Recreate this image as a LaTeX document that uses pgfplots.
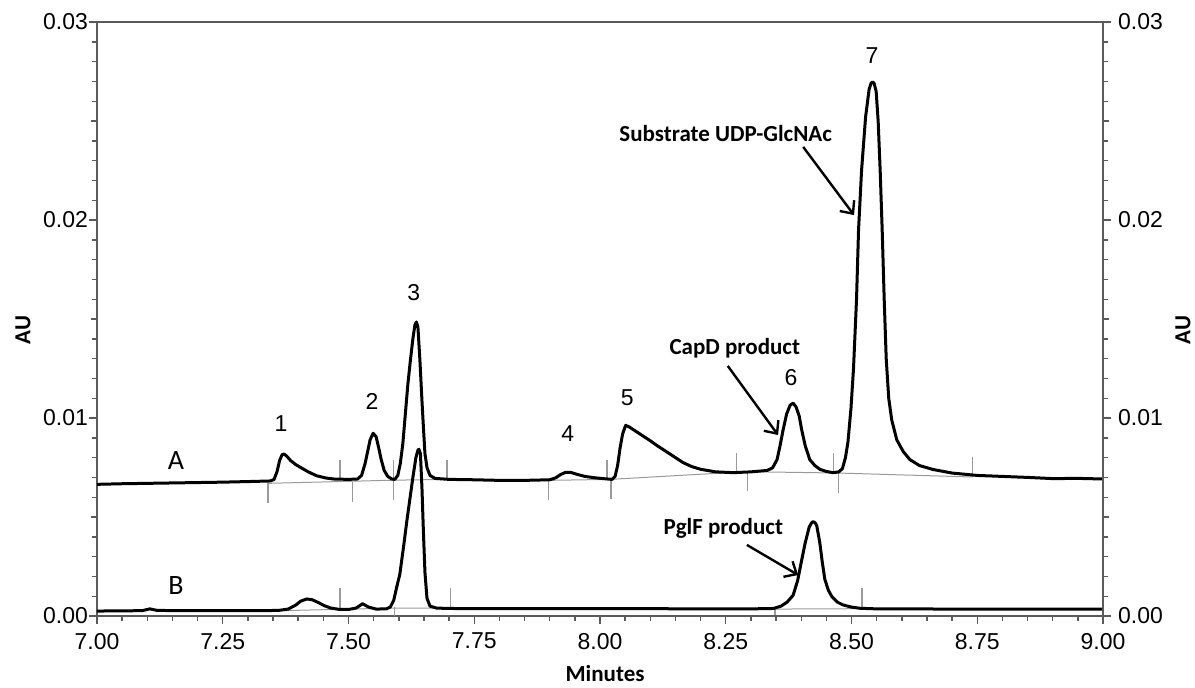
\documentclass[border=0pt]{standalone}
\usepackage{pgfplots}
\pgfplotsset{compat=1.18}
\usepackage{fontspec}
\setmainfont{Liberation Sans}
\newfontfamily\calibri{Carlito}
\usetikzlibrary{arrows.meta}
\definecolor{axisgray}{HTML}{5A5A5A}
\definecolor{basegray}{HTML}{9A9A9A}
\begin{document}
\begin{tikzpicture}
\pgfplotsset{
  common/.style={
    scale only axis, width=503pt, height=297pt,
    xmin=7, xmax=9, ymin=0, ymax=0.03,
    ytick={0,0.01,0.02,0.03}, minor y tick num=9,
    extra y ticks={0.005,0.015,0.025}, extra y tick labels={},
    extra y tick style={major tick length=3.2pt},
    tick align=outside,
    axis line style={draw=axisgray, line width=0.9pt},
    major tick length=4pt, minor tick length=2.3pt,
    every tick/.style={draw=axisgray, line width=0.7pt},
    tick label style={font=\fontsize{11.5}{13}\selectfont},
    scaled y ticks=false, scaled x ticks=false,
    tick label style={/pgf/number format/fixed, /pgf/number format/fixed zerofill, /pgf/number format/precision=2, /pgf/number format/assume math mode=true},
    clip=false,
  }
}
\begin{axis}[common,
  xtick={7,7.25,7.5,7.75,8,8.25,8.5,8.75,9}, minor x tick num=4,
  xtick pos=bottom, ytick pos=left,
  yticklabel style={xshift=3pt},
  xticklabel style={yshift=-1pt},
  xlabel={\calibri\bfseries Minutes},
  ylabel={\calibri\bfseries AU},
  every axis x label/.style={at={(axis description cs:0.505,-0.096)}, anchor=center, font=\fontsize{11.5}{13}\selectfont},
  every axis y label/.style={at={(axis description cs:-0.0736,0.4815)}, anchor=center, rotate=90, font=\fontsize{11.5}{13}\selectfont},
]
% integration baselines (gray)
\addplot[basegray, line width=0.5pt] coordinates {
(7.34,0.00670) (7.59,0.00686) (7.70,0.00690) (7.895,0.00685) (8.02,0.00690) (8.29,0.00729) (8.475,0.00722) (8.74,0.00702)};
\addplot[basegray, line width=0.5pt] coordinates {
(7.35,0.00026) (7.59,0.00040) (7.70,0.00040)};
\addplot[basegray, line width=0.5pt] coordinates {
(8.348,0.00035) (8.521,0.00037)};
% integration tick marks
\addplot[basegray, line width=0.6pt, unbounded coords=jump] coordinates {
(7.34,0.00570) (7.34,0.00670) (7.34,nan)
(7.483,0.00690) (7.483,0.00790) (7.483,nan)
(7.508,0.00578) (7.508,0.00678) (7.508,nan)
(7.59,0.00586) (7.59,0.00788) (7.59,nan)
(7.696,0.00690) (7.696,0.00790) (7.696,nan)
(7.897,0.00585) (7.897,0.00685) (7.897,nan)
(8.014,0.00690) (8.014,0.00790) (8.014,nan)
(8.022,0.00590) (8.022,0.00690) (8.022,nan)
(8.272,0.00725) (8.272,0.00825) (8.272,nan)
(8.294,0.00629) (8.294,0.00729) (8.294,nan)
(8.464,0.00722) (8.464,0.00822) (8.464,nan)
(8.474,0.00622) (8.474,0.00722) (8.474,nan)
(8.741,0.00702) (8.741,0.00802) (8.741,nan)
(7.483,0.00035) (7.483,0.00140) (7.483,nan)
(7.591,0.00000) (7.591,0.00045) (7.591,nan)
(7.702,0.00040) (7.702,0.00140) (7.702,nan)
(8.348,0.00005) (8.348,0.00038) (8.348,nan)
(8.521,0.00038) (8.521,0.00140)
};
% trace A
\addplot[black, line width=1.5pt, line join=round] coordinates {
(7.00,0.00665) (7.05,0.00668) (7.10,0.00670) (7.15,0.00672) (7.20,0.00674) (7.25,0.00676) (7.30,0.00679)
(7.345,0.00682) (7.352,0.00690) (7.358,0.00730) (7.363,0.00785) (7.368,0.00815) (7.372,0.00818)
(7.377,0.00808) (7.385,0.00785) (7.395,0.00765) (7.405,0.00750) (7.42,0.00728) (7.437,0.00708)
(7.455,0.00697) (7.47,0.00692) (7.50,0.00690) (7.518,0.00692) (7.526,0.00710) (7.533,0.00770)
(7.538,0.00830) (7.543,0.00890) (7.549,0.00923) (7.555,0.00905) (7.560,0.00850) (7.565,0.00790)
(7.571,0.00735) (7.578,0.00705) (7.586,0.00692) (7.592,0.00690) (7.598,0.00710) (7.603,0.00770)
(7.608,0.00870) (7.613,0.01020) (7.618,0.01170) (7.623,0.01290) (7.628,0.01400) (7.632,0.01470)
(7.635,0.01485) (7.638,0.01460) (7.642,0.01290) (7.646,0.01090) (7.649,0.00950) (7.652,0.00820)
(7.656,0.00750) (7.662,0.00710) (7.672,0.00695) (7.70,0.00690) (7.75,0.00688) (7.80,0.00685)
(7.85,0.00685) (7.90,0.00688) (7.912,0.00698) (7.922,0.00715) (7.932,0.00726) (7.942,0.00725)
(7.955,0.00715) (7.970,0.00705) (7.990,0.00698) (8.010,0.00693) (8.024,0.00690) (8.030,0.00705)
(8.035,0.00760) (8.040,0.00850) (8.045,0.00920) (8.051,0.00963) (8.058,0.00955) (8.070,0.00935)
(8.085,0.00910) (8.100,0.00885) (8.115,0.00858) (8.132,0.00830) (8.150,0.00800) (8.165,0.00775)
(8.182,0.00755) (8.200,0.00741) (8.230,0.00728) (8.265,0.00724) (8.300,0.00728) (8.332,0.00735)
(8.343,0.00748) (8.352,0.00790) (8.358,0.00860) (8.364,0.00940) (8.371,0.01020) (8.378,0.01065)
(8.384,0.01075) (8.390,0.01055) (8.396,0.01010) (8.401,0.00940) (8.408,0.00860) (8.417,0.00790)
(8.427,0.00760) (8.437,0.00741) (8.450,0.00730) (8.463,0.00724) (8.475,0.00728) (8.482,0.00745)
(8.488,0.00800) (8.493,0.00880) (8.499,0.01050) (8.504,0.01250) (8.510,0.01600) (8.514,0.01950)
(8.520,0.02250) (8.528,0.02520) (8.535,0.02660) (8.539,0.02692) (8.542,0.02697) (8.545,0.02690)
(8.549,0.02650) (8.553,0.02500) (8.557,0.02250) (8.561,0.01950) (8.565,0.01600) (8.569,0.01300)
(8.574,0.01100) (8.580,0.00990) (8.590,0.00890) (8.603,0.00830) (8.616,0.00790) (8.635,0.00760)
(8.662,0.00740) (8.70,0.00722) (8.75,0.00710) (8.80,0.00705) (8.85,0.00700) (8.90,0.00694)
(8.95,0.00695) (9.00,0.00692)
};
% trace B
\addplot[black, line width=1.5pt, line join=round] coordinates {
(7.00,0.00025) (7.05,0.00026) (7.09,0.00027) (7.105,0.00036) (7.12,0.00028) (7.20,0.00027)
(7.30,0.00027) (7.36,0.00028) (7.38,0.00035) (7.395,0.00055) (7.405,0.00075) (7.417,0.00086)
(7.428,0.00082) (7.440,0.00068) (7.452,0.00052) (7.465,0.00040) (7.48,0.00034) (7.50,0.00033)
(7.515,0.00040) (7.528,0.00062) (7.540,0.00045) (7.555,0.00035) (7.575,0.00036) (7.583,0.00045)
(7.590,0.00080) (7.596,0.00148) (7.602,0.00210) (7.610,0.00360) (7.616,0.00480) (7.622,0.00590)
(7.628,0.00700) (7.634,0.00800) (7.638,0.00838) (7.640,0.00842) (7.643,0.00820) (7.646,0.00650)
(7.649,0.00420) (7.652,0.00220) (7.656,0.00090) (7.662,0.00050) (7.675,0.00040) (7.70,0.00038)
(7.80,0.00037) (7.90,0.00037) (8.00,0.00037) (8.10,0.00037) (8.20,0.00036) (8.30,0.00036)
(8.345,0.00038) (8.360,0.00050) (8.372,0.00070) (8.384,0.00105) (8.393,0.00180) (8.400,0.00270)
(8.408,0.00370) (8.416,0.00450) (8.421,0.00472) (8.424,0.00476) (8.428,0.00470) (8.431,0.00455)
(8.437,0.00370) (8.442,0.00270) (8.447,0.00185) (8.454,0.00130) (8.461,0.00098) (8.472,0.00070)
(8.483,0.00056) (8.50,0.00045) (8.517,0.00039) (8.55,0.00036) (8.60,0.00036) (8.70,0.00035)
(8.80,0.00035) (8.90,0.00035) (9.00,0.00035)
};
% peak numbers
\begin{scope}[every node/.style={font=\fontsize{11.5}{13}\selectfont, anchor=center}]
\node at (axis cs:7.366,0.00972) {1};
\node at (axis cs:7.547,0.01081) {2};
\node at (axis cs:7.630,0.01631) {3};
\node at (axis cs:7.936,0.00919) {4};
\node at (axis cs:8.054,0.01101) {5};
\node at (axis cs:8.380,0.01202) {6};
\node at (axis cs:8.541,0.02828) {7};
\end{scope}
\node[font=\calibri\fontsize{14}{16}\selectfont] at (axis cs:7.157,0.00783) {A};
\node[font=\calibri\fontsize{14}{16}\selectfont] at (axis cs:7.157,0.00152) {B};
% annotations
\node[font=\calibri\bfseries\fontsize{11.5}{13}\selectfont] at (axis cs:8.268,0.01354) {CapD product};
\node[font=\calibri\bfseries\fontsize{11.5}{13}\selectfont] at (axis cs:8.250,0.02439) {Substrate UDP-GlcNAc};
\node[font=\calibri\bfseries\fontsize{11.5}{13}\selectfont] at (axis cs:8.245,0.00444) {PglF product};
\draw[line width=1.2pt, -{Straight Barb[length=5pt,width=9pt,line width=1.2pt]}] (axis cs:8.254,0.01263) -- (axis cs:8.354,0.00914);
\draw[line width=1.2pt, -{Straight Barb[length=5pt,width=9pt,line width=1.2pt]}] (axis cs:8.404,0.02369) -- (axis cs:8.505,0.02025);
\draw[line width=1.2pt, -{Straight Barb[length=5pt,width=9pt,line width=1.2pt]}] (axis cs:8.292,0.00359) -- (axis cs:8.394,0.00207);
\end{axis}
\begin{axis}[common,
  axis x line=none, axis y line*=right,
  ylabel={\calibri\bfseries AU},
  every axis y label/.style={at={(axis description cs:1.0795,0.4815)}, anchor=center, rotate=90, font=\fontsize{11.5}{13}\selectfont},
]
\addplot[draw=none] coordinates {(7,0) (9,0.03)};
\end{axis}
\pgfresetboundingbox
\path[use as bounding box] (-48.5pt,-35.5pt) rectangle (549pt,308pt);
\end{tikzpicture}
\end{document}
